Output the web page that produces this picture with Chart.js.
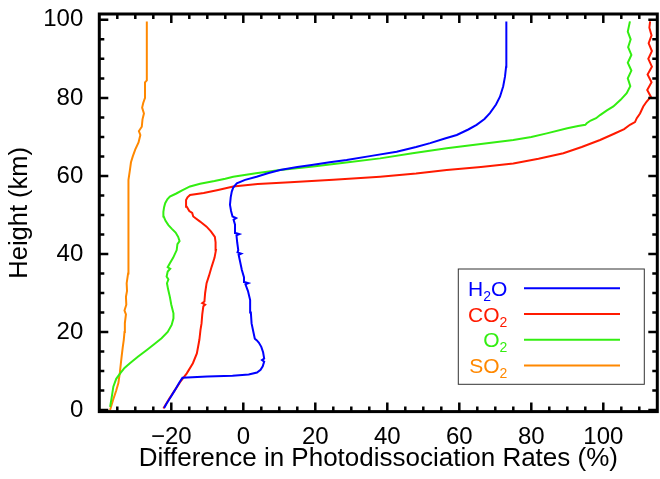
<!DOCTYPE html>
<html>
<head>
<meta charset="utf-8">
<script src="https://cdn.jsdelivr.net/npm/chart.js@4.4.1/dist/chart.umd.min.js"></script>
<style>
  body { margin: 0; background: #fff; }
  canvas { display: block; }
</style>
</head>
<body>
<canvas id="myChart" width="660" height="479"></canvas>
<script>
// height (km) and difference (%) for each gas
var h2oHeight = [0.5, 1.7, 3.3, 5.1, 7.0, 8.3, 8.6, 8.8, 9.1, 9.6, 10.3, 11.2, 12.4, 12.8, 13.2, 14.8, 16.2, 17.3, 17.9, 18.3,
  20.0, 22.2, 25.0, 28.2, 30.5, 32.2, 32.5, 32.8, 34.0, 35.9, 38.5, 39.8, 40.1, 40.4, 41.0, 43.0, 44.8, 45.1, 45.4, 47.5,
  48.8, 49.2, 49.6, 51.0, 52.6, 54.5, 56.0, 57.0, 58.1, 59.0, 59.8, 60.7, 61.5, 62.3, 62.8, 63.5, 64.1, 65.2, 66.2, 67.4,
  68.4, 69.6, 70.5, 71.9, 73.1, 74.6, 76.1, 78.3, 80.3, 83.0, 85.5, 88.0, 92.3, 96.0, 99.6];
var h2oDiff = [-22.0, -21.3, -20.2, -19.0, -17.8, -16.9, -10.0, -3.0, 1.5, 3.8, 4.8, 5.4, 5.8, 5.2, 5.8, 5.5, 5.0, 4.3, 3.7, 3.2,
  2.8, 2.3, 2.1, 1.9, 1.3, 0.6, 1.4, 0.3, 0.2, -0.4, -1.0, -1.3, -0.6, -1.6, -1.4, -1.7, -1.9, -1.1, -2.1, -2.3,
  -2.7, -2.0, -3.0, -3.4, -3.7, -3.5, -3.2, -2.8, -1.8, 0.5, 3.7, 6.8, 10.2, 15.0, 19.0, 24.0, 28.7, 36.0, 42.6, 48.0,
  51.9, 56.0, 59.3, 62.5, 64.8, 67.0, 68.5, 70.2, 71.3, 72.2, 72.7, 73.0, 73.2, 73.0, 73.0];

var co2Height = [0.4, 3.0, 5.1, 7.5, 9.4, 12.0, 14.5, 18.0, 20.5, 22.2, 24.5, 26.6, 27.0, 27.4, 27.8, 30.0, 32.5, 34.5, 36.7, 39.0,
  41.0, 43.0, 44.4, 45.8, 47.0, 48.3, 49.6, 50.5, 51.0, 52.1, 53.0, 53.8, 54.5, 55.1, 55.6, 56.4, 57.3, 57.9, 58.4, 59.0,
  59.8, 60.6, 61.5, 62.3, 63.2, 64.4, 65.8, 67.4, 69.2, 70.8, 72.0, 73.1, 73.8, 74.8, 76.0, 77.8, 79.0, 80.3, 82.0, 84.0,
  86.0, 88.0, 90.0, 92.0, 94.0, 96.0, 98.0, 99.6];
var co2Diff = [-22.2, -20.5, -19.0, -17.3, -15.7, -14.0, -12.9, -12.2, -11.9, -11.6, -11.4, -11.1, -10.6, -11.4, -10.8, -10.6, -10.2, -9.5, -8.8, -8.0,
  -7.6, -7.7, -7.9, -9.0, -10.2, -12.0, -13.9, -14.2, -15.0, -15.7, -15.9, -15.9, -15.5, -14.8, -11.0, -7.0, -2.8, 4.0, 13.0, 25.0,
  38.0, 48.0, 56.5, 66.0, 75.0, 82.0, 88.9, 94.0, 99.1, 103.0, 105.8, 107.4, 108.8, 109.3, 110.2, 111.1, 112.0, 113.2, 112.2, 113.4,
  112.3, 113.5, 112.5, 113.5, 112.6, 113.4, 112.8, 113.0];

var o2Height = [0.8, 3.0, 6.0, 8.0, 9.4, 10.8, 12.0, 13.7, 15.4, 17.0, 18.4, 20.0, 21.8, 23.5, 24.8, 27.0, 29.0, 31.0, 32.5, 33.5,
  34.2, 35.5, 36.2, 36.6, 37.6, 39.0, 41.0, 42.5, 43.3, 44.4, 45.5, 46.5, 47.4, 48.5, 49.6, 50.8, 52.0, 53.0, 54.0, 54.7,
  55.5, 56.3, 57.3, 58.0, 58.7, 59.3, 59.8, 60.7, 61.5, 62.4, 63.4, 64.5, 65.8, 67.1, 68.2, 69.2, 70.0, 70.9, 72.2, 72.8,
  73.1, 73.5, 74.2, 74.8, 75.6, 76.8, 77.8, 79.5, 81.2, 83.0, 85.0, 87.0, 89.0, 91.0, 93.0, 95.0, 97.0, 99.6];
var o2Diff = [-37.0, -36.6, -36.1, -35.3, -34.2, -33.0, -31.5, -29.2, -26.8, -24.6, -22.7, -21.0, -19.9, -19.4, -19.4, -20.0, -20.4, -20.9, -21.2, -20.8,
  -21.3, -21.0, -20.3, -21.0, -20.4, -19.5, -18.5, -18.3, -17.7, -18.1, -18.8, -19.9, -20.8, -21.6, -22.1, -22.2, -22.0, -21.7, -21.1, -20.4,
  -18.6, -17.0, -14.8, -12.0, -8.0, -5.0, -2.8, 3.5, 10.2, 19.4, 28.0, 38.0, 47.0, 56.5, 66.0, 75.0, 80.0, 84.3, 90.0, 93.0,
  95.0, 95.4, 96.5, 98.0, 99.1, 101.0, 102.8, 104.8, 106.5, 107.5, 106.8, 107.8, 106.8, 107.8, 106.9, 107.6, 106.8, 107.4];

var so2Height = [0.0, 2.5, 5.0, 6.9, 9.5, 12.0, 13.7, 16.0, 18.0, 20.0, 22.3, 24.5, 25.5, 27.0, 29.0, 30.5, 32.5, 35.0, 38.0, 41.0,
  44.0, 47.0, 50.0, 53.0, 56.0, 59.0, 61.5, 63.5, 65.0, 66.8, 68.6, 70.5, 71.5, 72.6, 74.5, 76.0, 77.5, 78.7, 80.0, 84.0,
  84.5, 99.6];
var so2Diff = [-37.0, -36.2, -35.3, -34.7, -34.3, -34.0, -33.8, -33.5, -33.2, -33.0, -32.9, -32.6, -33.0, -32.5, -32.6, -32.3, -32.4, -32.0, -31.9, -31.8,
  -32.0, -31.9, -31.9, -31.8, -32.0, -31.9, -31.5, -31.2, -30.7, -30.0, -29.1, -28.6, -29.0, -28.2, -28.0, -27.6, -28.1, -27.8, -27.3, -27.3,
  -26.8, -26.8];

var gasNames = ['H₂O', 'CO₂', 'O₂', 'SO₂'];
var gasColors = ['#0000ff', '#ff1a00', '#33ee11', '#ff8800'];
var xTickValues = [-20, 0, 20, 40, 60, 80, 100];
var yTickValues = [0, 20, 40, 60, 80, 100];

function toPoints(heights, diffs) {
  return heights.map(function (h, i) { return {x: diffs[i], y: h}; });
}

// IDL style frame with inward ticks on all four sides
var frameTicks = {
  id: 'frameTicks',
  afterDatasetsDraw: function (chart) {
    var ctx = chart.ctx, a = chart.chartArea, x = chart.scales.x, y = chart.scales.y;
    ctx.save();
    ctx.strokeStyle = '#000';
    ctx.lineWidth = 2.5;
    ctx.beginPath();
    for (var v = -35; v < 115; v += 5) {
      var px = x.getPixelForValue(v);
      var len = v % 20 === 0 ? 9 : 5;
      ctx.moveTo(px, a.bottom); ctx.lineTo(px, a.bottom - len);
      ctx.moveTo(px, a.top); ctx.lineTo(px, a.top + len);
    }
    for (var w = 0; w <= 100; w += 5) {
      var py = y.getPixelForValue(w);
      var l2 = w % 20 === 0 ? 9 : 5;
      ctx.moveTo(a.left, py); ctx.lineTo(a.left + l2, py);
      ctx.moveTo(a.right, py); ctx.lineTo(a.right - l2, py);
    }
    ctx.stroke();
    ctx.lineWidth = 3;
    ctx.strokeRect(a.left, a.top, a.right - a.left, a.bottom - a.top);
    ctx.restore();
  }
};

// legend box with subscripts, text on the left and line sample on the right
var gasLegend = {
  id: 'gasLegend',
  afterDraw: function (chart) {
    var ctx = chart.ctx, a = chart.chartArea;
    var left = a.right - 199, top = a.bottom - 142.6;
    ctx.save();
    ctx.strokeStyle = '#333';
    ctx.lineWidth = 1;
    ctx.strokeRect(left, top, 186, 115.3);
    chart.data.datasets.forEach(function (ds, i) {
      var cy = top + 19.3 + i * 25.7;
      var parts = ds.label.split('₂');
      ctx.font = '21px "Liberation Sans"';
      var w0 = ctx.measureText(parts[0]).width;
      var w2 = ctx.measureText(parts[1]).width;
      ctx.font = '14px "Liberation Sans"';
      var ws = ctx.measureText('2').width;
      var xs = left + 49 - (w0 + ws + w2);
      ctx.fillStyle = ds.borderColor;
      ctx.textBaseline = 'alphabetic';
      ctx.textAlign = 'left';
      ctx.font = '21px "Liberation Sans"';
      ctx.fillText(parts[0], xs, cy + 7.5);
      ctx.fillText(parts[1], xs + w0 + ws, cy + 7.5);
      ctx.font = '14px "Liberation Sans"';
      ctx.fillText('2', xs + w0, cy + 12.5);
      ctx.strokeStyle = ds.borderColor;
      ctx.lineWidth = 2;
      ctx.beginPath();
      ctx.moveTo(left + 65.7, cy);
      ctx.lineTo(left + 161.7, cy);
      ctx.stroke();
    });
    ctx.restore();
  }
};

Chart.defaults.font.family = '"Liberation Sans", Arial, sans-serif';
Chart.defaults.color = '#000';

var ctx = document.getElementById('myChart').getContext('2d');
var mychart = new Chart(ctx, {
  type: 'scatter',
  data: {
    datasets: [
      {label: gasNames[0], data: toPoints(h2oHeight, h2oDiff)},
      {label: gasNames[1], data: toPoints(co2Height, co2Diff)},
      {label: gasNames[2], data: toPoints(o2Height, o2Diff)},
      {label: gasNames[3], data: toPoints(so2Height, so2Diff)}
    ].map(function (ds, i) {
      ds.showLine = true;
      ds.borderColor = gasColors[i];
      ds.backgroundColor = gasColors[i];
      ds.borderWidth = 2;
      ds.pointRadius = 0;
      ds.pointHoverRadius = 0;
      ds.tension = 0;
      return ds;
    })
  },
  options: {
    responsive: false,
    animation: false,
    events: [],
    layout: {
      padding: {left: 0, right: 2.7, top: 14, bottom: 0}
    },
    plugins: {
      legend: {display: false},
      tooltip: {enabled: false}
    },
    scales: {
      x: {
        type: 'linear',
        min: -40,
        max: 115,
        grid: {display: false},
        border: {display: false},
        afterBuildTicks: function (scale) {
          scale.ticks = xTickValues.map(function (v) { return {value: v}; });
        },
        afterFit: function (scale) {
          scale.height = 67.4;
          scale.paddingLeft = 0;
          scale.paddingRight = 0;
        },
        ticks: {
          padding: 3,
          font: {size: 24},
          callback: function (v) { return String(v).replace('-', '\u2212'); }
        },
        title: {
          display: true,
          text: 'Difference in Photodissociation Rates (%)',
          font: {size: 26},
          padding: {top: 0, bottom: 5}
        }
      },
      y: {
        type: 'linear',
        min: -0.4,
        max: 101.5,
        grid: {display: false},
        border: {display: false},
        afterBuildTicks: function (scale) {
          scale.ticks = yTickValues.map(function (v) { return {value: v}; });
        },
        afterFit: function (scale) {
          scale.width = 99.3;
          scale.paddingTop = 0;
          scale.paddingBottom = 0;
        },
        ticks: {
          padding: 8,
          font: {size: 24}
        },
        title: {
          display: true,
          text: 'Height (km)',
          font: {size: 25.5},
          padding: {top: 5, bottom: 0}
        }
      }
    }
  },
  plugins: [frameTicks, gasLegend]
});
</script>
</body>
</html>
